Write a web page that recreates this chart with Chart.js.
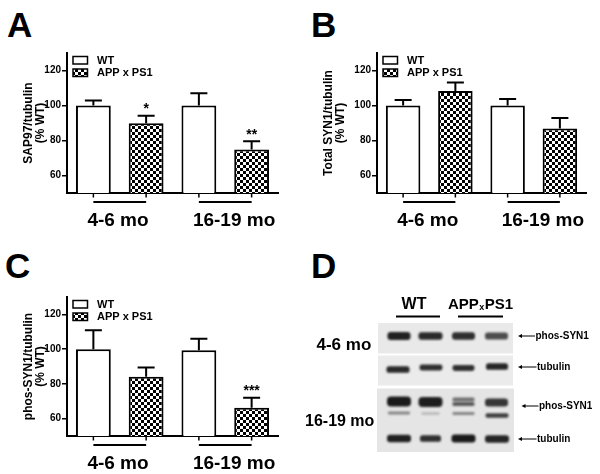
<!DOCTYPE html>
<html>
<head>
<meta charset="utf-8">
<script src="https://cdn.jsdelivr.net/npm/chart.js@4.4.1/dist/chart.umd.min.js"></script>
<style>
body { margin: 0; background: #fff; width: 600px; height: 474px; position: relative; overflow: hidden; }
canvas { position: absolute; }
.letter { position: absolute; font: bold 35px Arial, "Liberation Sans", sans-serif; line-height: 35px; color: #000; }
</style>
</head>
<body>
<div class="letter" style="left:7px;top:7px">A</div>
<div class="letter" style="left:311px;top:7px">B</div>
<div class="letter" style="left:5px;top:248px">C</div>
<div class="letter" style="left:311px;top:248px">D</div>
<canvas id="chartA" width="300" height="237" style="left:0;top:0"></canvas>
<canvas id="chartB" width="300" height="237" style="left:300px;top:0"></canvas>
<canvas id="chartC" width="300" height="237" style="left:0;top:237px"></canvas>
<canvas id="blot" width="300" height="237" style="left:300px;top:237px"></canvas>
<script>
const groups = ['4-6 mo', '16-19 mo'];
const seriesNames = ['WT', 'APP x PS1'];
const yTicks = [60, 80, 100, 120];

// A: SAP97
const sap97WT = [100, 100];
const sap97WTErr = [2.9, 7.0];
const sap97APP = [89.9, 74.9];
const sap97APPErr = [4.2, 4.7];
const sap97Stars = ['*', '**'];

// B: total SYN1
const totalSyn1WT = [100, 100];
const totalSyn1WTErr = [3.1, 3.7];
const totalSyn1APP = [108.3, 86.8];
const totalSyn1APPErr = [4.9, 6.0];
const totalSyn1Stars = ['', ''];

// C: phos-SYN1
const phosSyn1WT = [100, 99.4];
const phosSyn1WTErr = [10.9, 6.6];
const phosSyn1APP = [84.1, 66.3];
const phosSyn1APPErr = [5.3, 5.7];
const phosSyn1Stars = ['', '***'];

const family = 'Arial, "Liberation Sans", sans-serif';

// checkered fill for the APP x PS1 bars
function makeChecker() {
    const c = document.createElement('canvas');
    c.width = 6; c.height = 6;
    const g = c.getContext('2d');
    g.fillStyle = '#fff';
    g.fillRect(0, 0, 6, 6);
    g.fillStyle = '#000';
    g.fillRect(0, 0, 3, 3);
    g.fillRect(3, 3, 3, 3);
    return g.createPattern(c, 'repeat');
}
const checker = makeChecker();

const panelExtras = {
    id: 'panelExtras',
    afterDatasetsDraw(chart) {
        const {ctx, chartArea, scales: {y}} = chart;
        ctx.save();
        ctx.strokeStyle = '#000';
        ctx.fillStyle = '#000';
        chart.data.datasets.forEach((ds, di) => {
            const meta = chart.getDatasetMeta(di);
            meta.data.forEach((bar, i) => {
                const top = y.getPixelForValue(ds.data[i] + ds.errors[i]);
                ctx.lineWidth = 2;
                ctx.beginPath();
                ctx.moveTo(bar.x, bar.y);
                ctx.lineTo(bar.x, top);
                ctx.moveTo(bar.x - 8.5, top);
                ctx.lineTo(bar.x + 8.5, top);
                ctx.stroke();
                if (ds.stars && ds.stars[i]) {
                    ctx.font = 'bold 14px ' + family;
                    ctx.textAlign = 'center';
                    ctx.textBaseline = 'alphabetic';
                    ctx.fillText(ds.stars[i], bar.x, top - 2.5);
                }
                // little tick under each bar
                ctx.lineWidth = 1.5;
                ctx.beginPath();
                ctx.moveTo(bar.x, chartArea.bottom + 1);
                ctx.lineTo(bar.x, chartArea.bottom + 4.5);
                ctx.stroke();
            });
        });
        ctx.restore();
    },
    afterDraw(chart) {
        const {ctx, chartArea} = chart;
        const m0 = chart.getDatasetMeta(0);
        const m1 = chart.getDatasetMeta(1);
        ctx.save();
        ctx.strokeStyle = '#000';
        ctx.fillStyle = '#000';

        // group bars + labels
        chart.data.labels.forEach((label, i) => {
            const x1 = m0.data[i].x;
            const x2 = m1.data[i].x;
            const ly = chartArea.bottom + 9;
            ctx.lineWidth = 1.8;
            ctx.beginPath();
            ctx.moveTo(x1, ly);
            ctx.lineTo(x2, ly);
            ctx.stroke();
            ctx.font = 'bold 19px ' + family;
            ctx.textAlign = 'left';
            ctx.textBaseline = 'middle';
            ctx.fillText(label, x1 - 6, chartArea.bottom + 27.5);
        });

        // legend inside the plot
        chart.data.datasets.forEach((ds, di) => {
            const bx = chartArea.left + 6;
            const by = chartArea.top + 3.5 + di * 12.5;
            ctx.fillStyle = ds.backgroundColor;
            ctx.fillRect(bx, by, 14.5, 7.5);
            ctx.lineWidth = 1.5;
            ctx.strokeRect(bx, by, 14.5, 7.5);
            ctx.fillStyle = '#000';
            ctx.font = 'bold 11px ' + family;
            ctx.textAlign = 'left';
            ctx.textBaseline = 'middle';
            ctx.fillText(ds.label, chartArea.left + 30, by + 4.3);
        });
        ctx.restore();
    }
};

function makeChart(id, title, wt, wtErr, app, appErr, stars, pad, yWidth) {
    return new Chart(document.getElementById(id), {
        type: 'bar',
        data: {
            labels: groups,
            datasets: [
                {
                    label: seriesNames[0],
                    data: wt,
                    errors: wtErr,
                    backgroundColor: '#fff',
                    borderColor: '#000',
                    borderWidth: 2
                },
                {
                    label: seriesNames[1],
                    data: app,
                    errors: appErr,
                    stars: stars,
                    backgroundColor: checker,
                    borderColor: '#000',
                    borderWidth: 2
                }
            ]
        },
        options: {
            responsive: false,
            animation: false,
            devicePixelRatio: 1,
            categoryPercentage: 1,
            barPercentage: 0.66,
            layout: { padding: pad },
            plugins: {
                legend: { display: false },
                tooltip: { enabled: false }
            },
            scales: {
                x: {
                    afterFit: s => { s.height = 4; },
                    border: { color: '#000', width: 2 },
                    grid: { display: false },
                    ticks: { display: false }
                },
                y: {
                    min: 50,
                    max: 130,
                    afterBuildTicks: s => { s.ticks = yTicks.map(v => ({ value: v })); },
                    afterFit: s => { s.width = yWidth; },
                    border: { color: '#000', width: 2 },
                    grid: { drawOnChartArea: false, drawTicks: true, tickLength: 5, color: '#000', lineWidth: 1.5 },
                    ticks: { color: '#000', padding: 1, font: { family: family, size: 10, weight: 'bold' } },
                    title: {
                        display: true,
                        text: [title, '(% WT)'],
                        color: '#000',
                        font: { family: family, size: 12, weight: 'bold', lineHeight: 0.96 },
                        padding: { top: 23, bottom: 0 }
                    }
                }
            }
        },
        plugins: [panelExtras]
    });
}

makeChart('chartA', 'SAP97/tubulin', sap97WT, sap97WTErr, sap97APP, sap97APPErr, sap97Stars,
    { top: 53, right: 22, bottom: 40, left: 0 }, 67);
makeChart('chartB', 'Total SYN1/tubulin', totalSyn1WT, totalSyn1WTErr, totalSyn1APP, totalSyn1APPErr, totalSyn1Stars,
    { top: 53, right: 14, bottom: 40, left: 0 }, 77);
makeChart('chartC', 'phos-SYN1/tubulin', phosSyn1WT, phosSyn1WTErr, phosSyn1APP, phosSyn1APPErr, phosSyn1Stars,
    { top: 60, right: 22, bottom: 34, left: 0 }, 67);

// panel D: western blot picture (not data, just drawn)
function drawBlot() {
    const ctx = document.getElementById('blot').getContext('2d');
    ctx.fillStyle = '#000';
    ctx.strokeStyle = '#000';

    // header
    ctx.font = 'bold 16px ' + family;
    ctx.textBaseline = 'middle';
    ctx.textAlign = 'center';
    ctx.fillText('WT', 114, 68);
    ctx.textAlign = 'left';
    ctx.font = 'bold 15px ' + family;
    let x = 148;
    ctx.fillText('APP', x, 68);
    x += ctx.measureText('APP').width;
    ctx.font = 'bold 9px ' + family;
    ctx.fillText('x', x + 0.5, 71);
    x += ctx.measureText('x').width + 1;
    ctx.font = 'bold 15px ' + family;
    ctx.fillText('PS1', x, 68);
    ctx.lineWidth = 2;
    ctx.beginPath();
    ctx.moveTo(96, 79.5); ctx.lineTo(140, 79.5);
    ctx.moveTo(158, 79.5); ctx.lineTo(203, 79.5);
    ctx.stroke();

    // membranes
    ctx.fillStyle = '#e9e9e9';
    ctx.fillRect(78, 86, 135, 30.5);
    ctx.fillStyle = '#ebebeb';
    ctx.fillRect(78, 118.5, 135, 30);
    ctx.fillStyle = '#e5e5e5';
    ctx.fillRect(77, 151.5, 137, 63.5);

    // bands: [lane centre, y, width, height, darkness]
    const bands = [
        [99, 99, 23, 8, 0.92], [130.5, 99, 24, 7.5, 0.88], [163.5, 99, 23, 7.5, 0.86], [196.5, 99, 23, 7, 0.72],
        [98, 132.5, 23, 6.5, 0.88], [131, 130.5, 23, 6, 0.85], [163.5, 131, 22, 6, 0.85], [197, 129.5, 22, 6.5, 0.9],
        [99, 164.5, 24, 10, 0.95], [130.5, 165, 24, 10, 0.93], [163.5, 162.5, 22, 4, 0.55], [163.5, 167, 22, 4, 0.65],
        [196.5, 165.5, 23, 8, 0.82],
        [99, 176, 22, 3, 0.45], [130.5, 176.5, 18, 2.5, 0.22], [163.5, 176.5, 22, 3, 0.45], [197, 178.5, 23, 4.5, 0.78],
        [99, 201.5, 24, 7.5, 0.92], [130.5, 201.5, 21, 6.5, 0.85], [163.5, 201.5, 24, 8, 0.95], [197, 202, 24, 7.5, 0.9]
    ];
    ctx.save();
    ctx.filter = 'blur(1.1px)';
    bands.forEach(([cx, cy, w, h, d]) => {
        ctx.fillStyle = 'rgba(15,15,15,' + d + ')';
        ctx.beginPath();
        if (ctx.roundRect) ctx.roundRect(cx - w / 2, cy - h / 2, w, h, h / 2.5);
        else ctx.rect(cx - w / 2, cy - h / 2, w, h);
        ctx.fill();
    });
    ctx.restore();

    // row labels
    ctx.fillStyle = '#000';
    ctx.textAlign = 'left';
    ctx.textBaseline = 'middle';
    ctx.font = 'bold 17px ' + family;
    ctx.fillText('4-6 mo', 16.5, 108.5);
    ctx.font = 'bold 16px ' + family;
    ctx.fillText('16-19 mo', 5, 184.5);

    // arrows with names
    const arrows = [
        [218, 235, 99, 'phos-SYN1'],
        [218, 236.5, 130, 'tubulin'],
        [221.5, 238.5, 169, 'phos-SYN1'],
        [218, 236.5, 202, 'tubulin']
    ];
    ctx.font = 'bold 10px ' + family;
    arrows.forEach(([x1, x2, ay, name]) => {
        ctx.lineWidth = 1;
        ctx.beginPath();
        ctx.moveTo(x1 + 3, ay); ctx.lineTo(x2, ay);
        ctx.stroke();
        ctx.beginPath();
        ctx.moveTo(x1, ay); ctx.lineTo(x1 + 4, ay - 2); ctx.lineTo(x1 + 4, ay + 2);
        ctx.closePath();
        ctx.fill();
        ctx.fillText(name, x2 + 0.5, ay + 0.5);
    });
}
drawBlot();
</script>
</body>
</html>
